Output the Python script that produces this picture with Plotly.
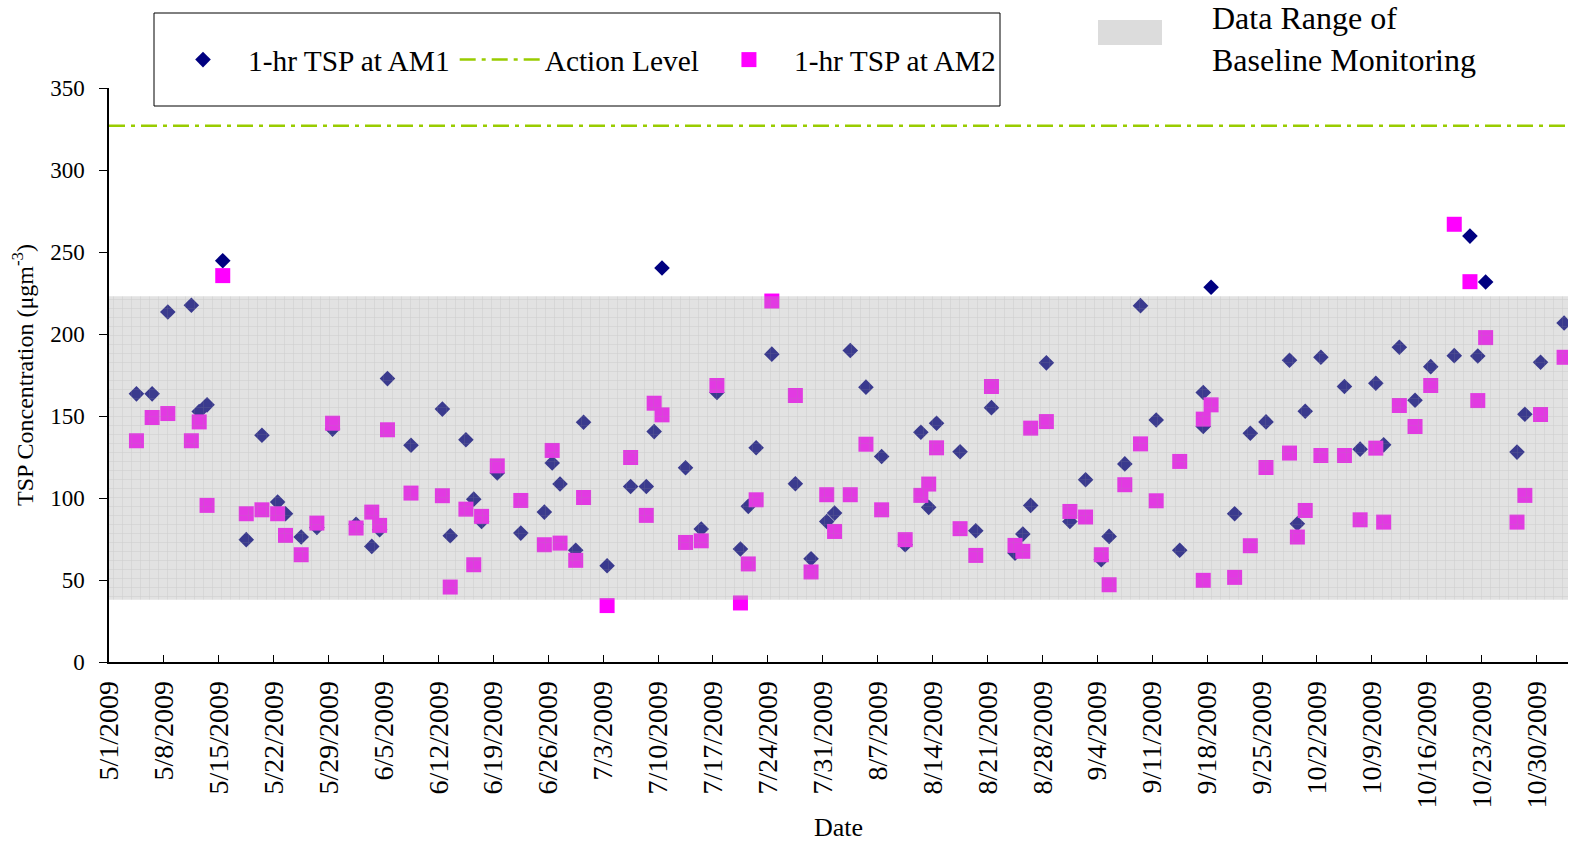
import pandas as pd
import plotly.graph_objects as go

# Sampling dates and 1-hour TSP results (ug/m3)
dates = [
    "2009-05-04", "2009-05-06", "2009-05-08", "2009-05-11", "2009-05-12", "2009-05-13",
    "2009-05-15", "2009-05-18", "2009-05-20", "2009-05-22", "2009-05-23", "2009-05-25",
    "2009-05-27", "2009-05-29", "2009-06-01", "2009-06-03", "2009-06-04", "2009-06-05",
    "2009-06-08", "2009-06-12", "2009-06-13", "2009-06-15", "2009-06-16", "2009-06-17",
    "2009-06-19", "2009-06-22", "2009-06-25", "2009-06-26", "2009-06-27", "2009-06-29",
    "2009-06-30", "2009-07-03", "2009-07-06", "2009-07-08", "2009-07-09", "2009-07-10",
    "2009-07-13", "2009-07-15", "2009-07-17", "2009-07-20", "2009-07-21", "2009-07-22",
    "2009-07-24", "2009-07-27", "2009-07-29", "2009-07-31", "2009-08-01", "2009-08-03",
    "2009-08-05", "2009-08-07", "2009-08-10", "2009-08-12", "2009-08-13", "2009-08-14",
    "2009-08-17", "2009-08-19", "2009-08-21", "2009-08-24", "2009-08-25", "2009-08-26",
    "2009-08-28", "2009-08-31", "2009-09-02", "2009-09-04", "2009-09-05", "2009-09-07",
    "2009-09-09", "2009-09-11", "2009-09-14", "2009-09-17", "2009-09-17", "2009-09-18",
    "2009-09-21", "2009-09-23", "2009-09-25", "2009-09-28", "2009-09-29", "2009-09-30",
    "2009-10-02", "2009-10-05", "2009-10-07", "2009-10-09", "2009-10-10", "2009-10-12",
    "2009-10-14", "2009-10-16", "2009-10-19", "2009-10-21", "2009-10-22", "2009-10-23",
    "2009-10-27", "2009-10-28", "2009-10-30", "2009-11-02",
]

tsp_am1 = [
    163.5, 163.5, 213.4, 217.5, 152.7, 156.8,
    244.7, 74.6, 138.3, 97.5, 90.4, 76.2,
    82.0, 142.0, 84.0, 70.5, 80.6, 172.8,
    132.2, 154.2, 77.0, 135.5, 99.3, 85.7,
    115.2, 78.6, 91.4, 121.3, 108.5, 68.1,
    146.2, 58.7, 107.0, 107.0, 140.5, 240.2,
    118.4, 81.1, 164.3, 68.9, 94.9, 130.6,
    187.7, 108.7, 63.0, 85.7, 90.8, 189.9,
    167.6, 125.3, 71.5, 140.1, 94.3, 145.6,
    128.2, 80.0, 155.1, 66.4, 78.0, 95.5,
    182.4, 85.7, 111.1, 62.4, 76.6, 120.8,
    217.3, 147.6, 68.1, 164.3, 143.6, 228.5,
    90.4, 139.5, 146.4, 184.0, 84.3, 152.9,
    185.8, 168.0, 129.8, 170.0, 132.4, 191.9,
    159.6, 180.1, 186.8, 259.7, 186.6, 231.7,
    128.0, 151.1, 182.8, 206.7,
]

tsp_am2 = [
    134.9, 149.1, 151.5, 134.9, 146.4, 95.5,
    235.6, 90.4, 92.8, 90.4, 77.2, 65.4,
    84.7, 145.6, 81.7, 91.4, 83.3, 141.6,
    103.0, 101.4, 45.7, 93.2, 59.3, 88.8,
    119.6, 98.5, 71.5, 129.0, 72.5, 62.0,
    100.3, 34.4, 124.7, 89.4, 157.8, 150.7,
    72.9, 73.9, 168.6, 36.0, 59.8, 98.9,
    220.1, 162.5, 54.9, 102.0, 79.6, 102.0,
    132.8, 92.8, 74.6, 101.6, 108.5, 130.6,
    81.3, 65.0, 168.0, 71.1, 67.5, 142.6,
    146.6, 91.8, 88.4, 65.4, 47.1, 108.1,
    133.0, 98.3, 122.3, 148.1, 49.8, 156.8,
    51.6, 70.9, 118.6, 127.4, 76.2, 92.4,
    125.9, 125.9, 86.7, 130.4, 85.3, 156.4,
    143.6, 168.6, 266.9, 231.9, 159.4, 197.8,
    85.3, 101.6, 150.9, 185.8,
]

action_level = 327.0
baseline_low = 38.0
baseline_high = 223.0
baseline_label = "Data Range of<br>Baseline Monitoring"

period_start = "2009-05-01"
period_end = "2009-11-03"

FONT = "Liberation Serif"
W, H = 1571, 842
ML, MR, MT, MB = 109, 3, 88, 180
PW, PH = W - ML - MR, H - MT - MB


def px_x(p):
    return (p - ML) / PW


def px_y(p):
    return (H - MB - p) / PH


# each sample is centred within its day, as on a date axis with day-wide slots
x_samples = pd.to_datetime(dates) + pd.Timedelta(hours=12)
x_span = [pd.Timestamp(period_start), pd.Timestamp(period_end)]

fig = go.Figure()

fig.add_trace(go.Scatter(
    x=x_samples, y=tsp_am1, mode="markers", name="1-hr TSP at AM1",
    marker=dict(symbol="diamond", size=12, color="#000080", line=dict(width=0)),
    legendrank=1,
))
fig.add_trace(go.Scatter(
    x=x_samples, y=tsp_am2, mode="markers", name="1-hr TSP at AM2",
    marker=dict(symbol="square", size=15, color="#FF00FF", line=dict(width=0)),
    legendrank=3,
))
fig.add_trace(go.Scatter(
    x=x_span, y=[action_level, action_level], mode="lines", name="Action Level",
    line=dict(color="#99CC00", width=2.5, dash="16px,6px,4px,6px"),
    legendrank=2,
))

# translucent hatched band for the baseline range, laid over the markers
band_fill = "rgba(172,172,172,0.34)"
fig.add_trace(go.Scatter(
    x=[x_span[0], x_span[1], x_span[1], x_span[0], x_span[0]],
    y=[baseline_low, baseline_low, baseline_high, baseline_high, baseline_low],
    mode="lines", fill="toself", line=dict(width=0, color=band_fill),
    fillcolor=band_fill,
    fillpattern=dict(shape="+", size=9, solidity=0.12,
                     fgcolor="rgba(150,150,150,0.5)", bgcolor=band_fill),
    showlegend=False, hoverinfo="skip",
))

fig.update_layout(
    width=W, height=H,
    margin=dict(l=ML, r=MR, t=MT, b=MB, autoexpand=False),
    paper_bgcolor="white", plot_bgcolor="white",
    font=dict(family=FONT, color="black"),
    showlegend=True,
    legend=dict(
        orientation="h", x=px_x(158), y=px_y(60), xanchor="left", yanchor="middle",
        font=dict(family=FONT, size=29.4, color="black"),
        itemwidth=80, bgcolor="rgba(0,0,0,0)", borderwidth=0,
        traceorder="normal",
    ),
    shapes=[
        # frame around the series key
        dict(type="rect", xref="paper", yref="paper",
             x0=px_x(154), x1=px_x(1000), y0=px_y(106), y1=px_y(13),
             line=dict(color="black", width=1), fillcolor="rgba(0,0,0,0)", layer="below"),
        # swatch for the baseline band key
        dict(type="rect", xref="paper", yref="paper",
             x0=px_x(1098), x1=px_x(1162), y0=px_y(45), y1=px_y(20),
             line=dict(width=0), fillcolor="#dcdcdc", layer="above"),
    ],
    annotations=[dict(
        text=baseline_label, xref="paper", yref="paper",
        x=px_x(1210), y=px_y(39), xanchor="left", yanchor="middle",
        align="left", showarrow=False,
        font=dict(family=FONT, size=32, color="black"),
    )],
    xaxis=dict(
        type="date", range=x_span, automargin=False,
        tick0=period_start, dtick=7 * 86400000, tickformat="%-m/%-d/%Y",
        tickangle=-90, ticks="inside", ticklen=7, tickwidth=1, tickcolor="black",
        showline=True, linecolor="black", linewidth=1.5,
        showgrid=False, zeroline=False, ticklabelstandoff=6,
        tickfont=dict(family=FONT, size=28, color="black"),
        title=dict(text="Date", font=dict(family=FONT, size=26, color="black"), standoff=12),
    ),
    yaxis=dict(
        range=[0, 350], dtick=50, tick0=0, automargin=False,
        ticks="outside", ticklen=8, tickwidth=1, tickcolor="black",
        showline=True, linecolor="black", linewidth=1.5,
        showgrid=False, zeroline=False, ticklabelstandoff=10,
        tickfont=dict(family=FONT, size=23, color="black"),
        title=dict(text="TSP Concentration (μgm<sup>-3</sup>)",
                   font=dict(family=FONT, size=24, color="black"), standoff=10),
    ),
    yaxis2=dict(
        overlaying="y", anchor="x", side="left", range=[0, 350], dtick=50, tick0=0,
        ticks="inside", ticklen=7, tickwidth=1, tickcolor="black", automargin=False,
        showticklabels=False, showline=False, showgrid=False, zeroline=False,
    ),
)

fig.write_html("out.html")
